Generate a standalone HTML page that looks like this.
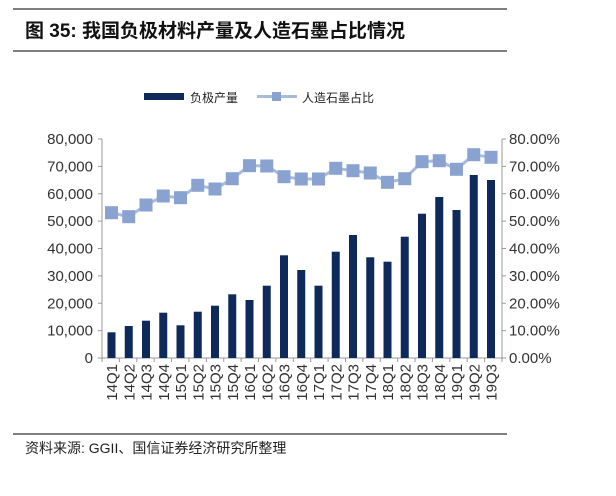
<!DOCTYPE html>
<html><head><meta charset="utf-8"><style>
body{margin:0;background:#fff;width:616px;height:491px;overflow:hidden;font-family:"Liberation Sans","Noto Sans CJK SC",sans-serif}
</style></head><body>
<svg id="s" width="616" height="491" xmlns="http://www.w3.org/2000/svg" font-family="Liberation Sans, Noto Sans CJK SC, sans-serif">
<line x1="13" y1="9" x2="507" y2="9" stroke="#555" stroke-width="1.5"/>
<line x1="13" y1="51" x2="507" y2="51" stroke="#555" stroke-width="1.5"/>
<text x="25" y="37" font-size="19" font-weight="bold" fill="#111">图 35:  我国负极材料产量及人造石墨占比情况</text>
<rect x="144" y="93" width="40" height="7" fill="#0d2a5a"/>
<text x="190" y="102" font-size="12" fill="#222">负极产量</text>
<line x1="257" y1="96.5" x2="297" y2="96.5" stroke="#a9bbdc" stroke-width="3"/>
<rect x="272" y="92" width="9" height="9" fill="#8aa2d0"/>
<text x="302" y="102" font-size="12" fill="#222">人造石墨占比</text>
<line x1="13" y1="434" x2="507" y2="434" stroke="#555" stroke-width="1.5"/>
<text x="25" y="453" font-size="14" fill="#222">资料来源: GGII、国信证券经济研究所整理</text>
<g id="g"></g>
</svg>
<script>
var g=document.getElementById('g'),h='';
var tops=[332.3,326,320.7,312.7,325.3,311.7,305.7,294.3,300,285.7,255.3,270,285.7,251.7,235,257.3,261.7,236.7,213.7,197,210,175,180];
var ly=[212.7,216.7,205,196,197.7,185.3,189,178.7,165.7,166,176.7,179,179,168.3,170.7,173,182.3,178.7,161.7,160.7,169.3,154.7,157.3];
var lab=['14Q1','14Q2','14Q3','14Q4','15Q1','15Q2','15Q3','15Q4','16Q1','16Q2','16Q3','16Q4','17Q1','17Q2','17Q3','17Q4','18Q1','18Q2','18Q3','18Q4','19Q1','19Q2','19Q3'];
var X0=102,X1=502,Y0=358,YT=139;
h+='<line x1="'+X0+'" y1="'+YT+'" x2="'+X0+'" y2="'+Y0+'" stroke="#999"/>';
h+='<line x1="'+X1+'" y1="'+YT+'" x2="'+X1+'" y2="'+Y0+'" stroke="#999"/>';
h+='<line x1="'+X0+'" y1="'+Y0+'" x2="'+X1+'" y2="'+Y0+'" stroke="#999"/>';
for(var k=0;k<=8;k++){var y=Y0-(Y0-YT)*k/8;
h+='<line x1="'+(X0-4)+'" y1="'+y+'" x2="'+X0+'" y2="'+y+'" stroke="#999"/>';
h+='<line x1="'+X1+'" y1="'+y+'" x2="'+(X1+4)+'" y2="'+y+'" stroke="#999"/>';
var s=k==0?'0':(k*10)+',000';
h+='<text x="'+(X0-9)+'" y="'+(y+5)+'" font-size="15" fill="#333" text-anchor="end">'+s+'</text>';
h+='<text x="'+(X1+7)+'" y="'+(y+5)+'" font-size="15" fill="#333">'+(k*10)+'.00%</text>';}
var st=(X1-X0)/23;
for(var i=0;i<=23;i++){var x=X0+st*i;h+='<line x1="'+x+'" y1="'+Y0+'" x2="'+x+'" y2="'+(Y0+4)+'" stroke="#999"/>';}
var pts=[];
for(var i=0;i<23;i++){var c=111.5+17.25*i;
h+='<rect x="'+(c-4)+'" y="'+tops[i]+'" width="8" height="'+(Y0-tops[i])+'" fill="#0d2a5a"/>';
pts.push(c+','+ly[i]);
h+='<text transform="translate('+(c+5.5)+',364) rotate(-90)" font-size="15" fill="#333" text-anchor="end">'+lab[i]+'</text>';}
h+='<polyline points="'+pts.join(' ')+'" fill="none" stroke="#a9bbdc" stroke-width="3"/>';
for(var i=0;i<23;i++){var c=111.5+17.25*i;h+='<rect x="'+(c-6.5)+'" y="'+(ly[i]-6.5)+'" width="13" height="13" fill="#8aa2d0"/>';}
g.innerHTML=h;
</script>
</body></html>
